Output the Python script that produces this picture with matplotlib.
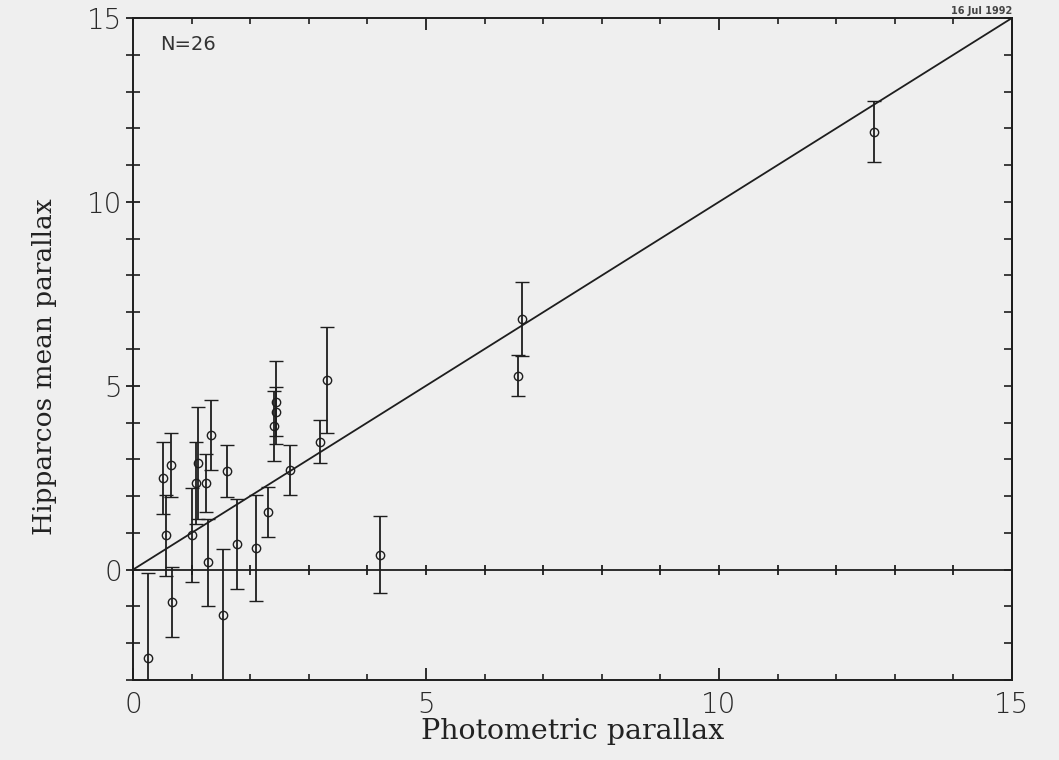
import matplotlib
matplotlib.use("Agg")
import matplotlib.pyplot as plt
from matplotlib.ticker import MultipleLocator, NullFormatter

# Data
phot_parallax = [0.256, 0.519, 0.570, 0.643, 0.672, 1.014, 1.070, 1.116, 1.241, 1.275,
                 1.326, 1.536, 1.604, 1.775, 2.099, 2.311, 2.435, 2.435, 2.413, 2.686,
                 3.186, 3.311, 4.21, 6.64, 6.57, 12.65]
hip_parallax = [-2.41, 2.50, 0.94, 2.84, -0.87, 0.94, 2.35, 2.90, 2.36, 0.20,
                3.67, -1.23, 2.68, 0.70, 0.59, 1.58, 4.55, 4.30, 3.90, 2.71,
                3.48, 5.15, 0.41, 6.81, 5.27, 11.91]
hip_error = [2.31, 0.98, 1.10, 0.87, 0.95, 1.27, 1.11, 1.53, 0.78, 1.19,
             0.95, 1.80, 0.71, 1.22, 1.45, 0.68, 1.13, 0.67, 0.95, 0.69,
             0.59, 1.44, 1.04, 1.00, 0.56, 0.82]
equality_line = [0, 15]
x_major_ticks = [0, 5, 10, 15]
y_major_ticks = [0, 5, 10, 15]

ink = "#1e1e1e"
paper = "#efefef"

fig = plt.figure(figsize=(10.59, 7.6), dpi=100, facecolor=paper)
ax = fig.add_axes([0.1256, 0.1053, 0.8300, 0.8710], facecolor=paper)

ax.errorbar(phot_parallax, hip_parallax, yerr=hip_error, fmt="o", mfc="none",
            mec=ink, ms=6, mew=1.0, ecolor=ink, elinewidth=1.3, capsize=5,
            capthick=1.3, color=ink, zorder=3, clip_on=True)
ax.plot(equality_line, equality_line, color=ink, lw=1.3, zorder=2)

ax.set_xlim(0, 15)
ax.set_ylim(-3, 15)

for s in ax.spines.values():
    s.set_color(ink)
    s.set_linewidth(1.4)

ax.xaxis.set_minor_locator(MultipleLocator(1))
ax.yaxis.set_minor_locator(MultipleLocator(1))
ax.set_xticks(x_major_ticks)
ax.set_yticks(y_major_ticks)

ax.tick_params(axis="x", which="major", direction="in", length=8.5, width=1.3,
               top=True, color=ink, labelsize=20, pad=8, labelcolor="#2a2a2a")
ax.tick_params(axis="x", which="minor", direction="in", length=4.3, width=1.2,
               top=True, color=ink)
ax.tick_params(axis="y", which="major", direction="inout", length=9.5, width=1.3,
               right=False, color=ink, labelsize=20, pad=3, labelcolor="#2a2a2a")
ax.tick_params(axis="y", which="minor", direction="inout", length=9.5, width=1.2,
               right=False, color=ink)
for lab in ax.get_xticklabels() + ax.get_yticklabels():
    lab.set_fontweight("light")

# right-hand axis: inward ticks only
right_ax = ax.secondary_yaxis("right")
right_ax.yaxis.set_major_locator(MultipleLocator(1))
right_ax.yaxis.set_major_formatter(NullFormatter())
right_ax.tick_params(direction="in", length=5.5, width=1.2, color=ink)
right_ax.spines["right"].set_color(ink)
right_ax.spines["right"].set_linewidth(1.4)

# horizontal zero axis with crossing ticks
zero_ax = ax.secondary_xaxis(3 / 18)
zero_ax.spines["bottom"].set_color(ink)
zero_ax.spines["bottom"].set_linewidth(1.3)
zero_ax.xaxis.set_major_locator(MultipleLocator(5))
zero_ax.xaxis.set_minor_locator(MultipleLocator(1))
zero_ax.xaxis.set_major_formatter(NullFormatter())
zero_ax.tick_params(which="both", direction="inout", length=7.5, width=1.3, color=ink)

ax.set_xlabel("Photometric parallax", family="DejaVu Serif", fontsize=20.5,
              color="#222222")
ax.xaxis.set_label_coords(0.5, -0.058)
ax.set_ylabel("Hipparcos mean parallax", family="DejaVu Serif", fontsize=19,
              color="#222222")
ax.yaxis.set_label_coords(-0.086, 0.473)

ax.text(0.031, 0.975, "N=26", transform=ax.transAxes, fontsize=14,
        color="#333333", va="top", ha="left")
ax.text(1.0, 1.003, "16 Jul 1992", transform=ax.transAxes, fontsize=7,
        fontweight="bold", color="#444444", va="bottom", ha="right")

fig.savefig("out.png", dpi=100, facecolor=paper)
